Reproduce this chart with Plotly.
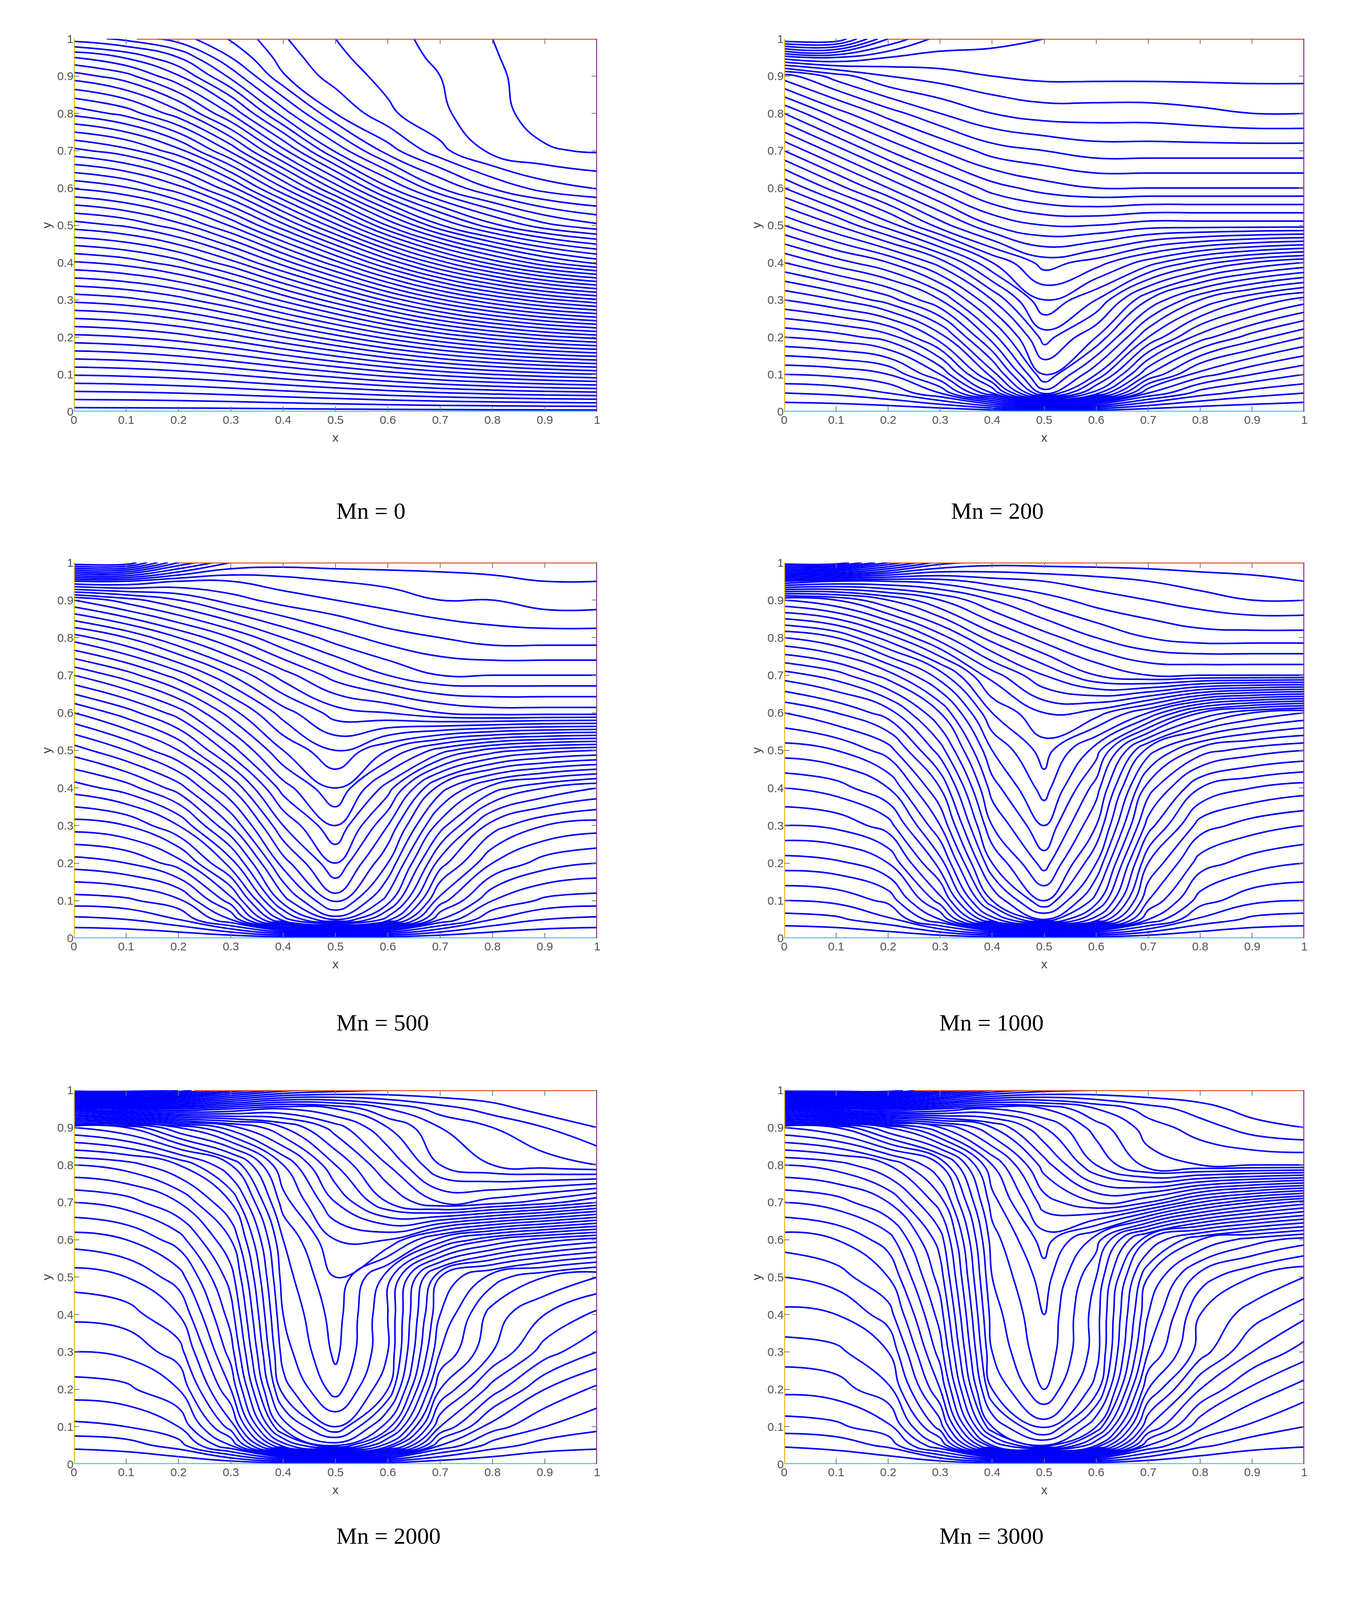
import plotly.graph_objects as go

# shared grid (x columns, y rows)
xg = [0, 0.1, 0.2, 0.3, 0.4, 0.5, 0.6, 0.7, 0.8, 0.9, 1]
yg = [0, 0.05, 0.1, 0.2, 0.3, 0.4, 0.5, 0.6, 0.7, 0.8, 0.9, 0.95, 1]

# field values, rows y=0 -> y=1
# (Mn = 0 is in "isoline index" units, the others on a 0..1 scale)
t_mn0 = [
    [0, 0, 0, 0, 0, 0, 0, 0, 0, 0, 0],
    [2.3, 2.37, 2.51, 2.76, 3.12, 3.52, 3.97, 4.39, 4.74, 5.03, 5.23],
    [4.6, 4.73, 5.02, 5.53, 6.24, 7.04, 7.93, 8.78, 9.49, 10.06, 10.46],
    [9.2, 9.47, 10.05, 11.06, 12.48, 14.09, 15.86, 17.55, 18.97, 20.13, 20.91],
    [13.8, 14.2, 15.07, 16.59, 18.73, 21.13, 23.79, 26.33, 28.46, 30.19, 31.37],
    [18.4, 18.93, 20.09, 22.12, 24.97, 28.17, 31.72, 35.11, 37.94, 40.26, 41.82],
    [23, 23.67, 25.12, 27.65, 31.21, 35.21, 39.6, 43.4, 46.2, 48.2, 49.3],
    [27.6, 28.4, 30.14, 33.18, 37.45, 41.9, 46.3, 49.5, 51.6, 53, 53.6],
    [32.2, 33.13, 35.16, 38.7, 43.2, 47.7, 51, 53.2, 54.8, 55.4, 55.6],
    [36.8, 37.87, 40.1, 43.6, 48, 51.5, 53.3, 54.3, 55.2, 55.9, 56.1],
    [41, 42.1, 44.4, 47.8, 51.4, 53, 53.8, 54.5, 55.3, 56, 56.2],
    [43.5, 44.6, 46.5, 49.5, 52, 53.3, 54, 54.7, 55.4, 56.1, 56.2],
    [47, 47.8, 49, 50.6, 52.4, 53.5, 54.2, 54.8, 55.5, 56.1, 56.3],
]
t_mn200 = [
    [0, 0, 0, 0, 0, 0, 0, 0, 0, 0, 0],
    [.04, .045, .06, .1, .2, .35, .25, .12, .07, .05, .04],
    [.08, .085, .1, .16, .27, .4, .32, .2, .13, .1, .08],
    [.16, .17, .19, .25, .35, .45, .4, .3, .23, .19, .16],
    [.24, .26, .29, .34, .42, .5, .46, .38, .32, .28, .25],
    [.32, .35, .38, .43, .5, .55, .53, .49, .45, .42, .40],
    [.40, .44, .49, .55, .6, .62, .62, .61, .61, .61, .61],
    [.48, .53, .58, .63, .67, .69, .7, .7, .7, .7, .7],
    [.56, .61, .66, .7, .73, .74, .75, .75, .75, .75, .75],
    [.64, .69, .73, .76, .78, .79, .79, .79, .795, .80, .80],
    [.73, .77, .8, .81, .82, .825, .825, .825, .825, .825, .825],
    [.85, .86, .84, .835, .835, .835, .835, .835, .835, .835, .835],
    [1, 1, .9, .85, .845, .84, .84, .84, .84, .84, .84],
]
t_mn500 = [
    [0, 0, 0, 0, 0, 0, 0, 0, 0, 0, 0],
    [.035, .04, .06, .12, .25, .33, .25, .12, .06, .04, .035],
    [.07, .075, .095, .17, .31, .39, .31, .17, .1, .075, .07],
    [.13, .14, .17, .25, .37, .44, .36, .23, .16, .13, .12],
    [.19, .2, .24, .32, .42, .48, .4, .29, .21, .18, .17],
    [.25, .27, .31, .38, .47, .52, .45, .35, .29, .26, .24],
    [.31, .34, .38, .45, .52, .56, .52, .47, .43, .41, .40],
    [.38, .41, .45, .51, .57, .61, .62, .64, .65, .65, .65],
    [.46, .49, .53, .58, .63, .67, .7, .72, .72, .72, .72],
    [.55, .58, .62, .66, .7, .73, .75, .76, .77, .77, .77],
    [.66, .69, .72, .75, .77, .78, .79, .80, .80, .81, .81],
    [.8, .8, .78, .78, .79, .8, .805, .81, .815, .82, .82],
    [1, 1, .9, .84, .83, .83, .83, .83, .83, .83, .83],
]
t_mn1000 = [
    [0, 0, 0, 0, 0, 0, 0, 0, 0, 0, 0],
    [.03, .035, .055, .12, .25, .34, .25, .12, .055, .035, .03],
    [.06, .065, .085, .17, .32, .4, .31, .16, .09, .065, .06],
    [.11, .115, .14, .23, .38, .45, .36, .2, .13, .11, .10],
    [.16, .165, .19, .28, .42, .48, .4, .25, .17, .15, .14],
    [.2, .21, .24, .32, .45, .51, .43, .29, .22, .2, .19],
    [.25, .26, .29, .37, .48, .53, .47, .35, .29, .27, .26],
    [.3, .32, .35, .42, .52, .56, .55, .5, .42, .38, .36],
    [.37, .39, .43, .49, .57, .62, .66, .68, .68, .68, .68],
    [.46, .48, .53, .59, .65, .69, .72, .74, .75, .75, .75],
    [.58, .6, .64, .68, .72, .75, .77, .78, .79, .8, .8],
    [.76, .74, .74, .75, .77, .78, .79, .8, .81, .815, .82],
    [1, 1, .92, .85, .83, .83, .83, .83, .83, .83, .83],
]
t_mn2000 = [
    [0, 0, 0, 0, 0, 0, 0, 0, 0, 0, 0],
    [.025, .03, .05, .12, .27, .35, .25, .1, .05, .03, .025],
    [.055, .06, .08, .17, .35, .42, .33, .16, .09, .06, .045],
    [.09, .095, .12, .22, .41, .47, .4, .22, .15, .1, .075],
    [.12, .125, .15, .25, .43, .485, .42, .26, .2, .15, .12],
    [.145, .15, .18, .27, .44, .49, .42, .28, .21, .18, .155],
    [.17, .18, .21, .29, .45, .5, .43, .3, .25, .22, .20],
    [.21, .22, .25, .32, .46, .52, .52, .45, .4, .37, .35],
    [.26, .27, .3, .36, .49, .56, .62, .66, .65, .63, .60],
    [.32, .33, .36, .42, .52, .6, .66, .72, .74, .75, .76],
    [.42, .44, .5, .55, .6, .65, .7, .74, .76, .78, .8],
    [.65, .7, .72, .7, .68, .7, .74, .77, .79, .81, .82],
    [1, 1, .98, .9, .85, .83, .82, .82, .82, .82, .82],
]
t_mn3000 = [
    [0, 0, 0, 0, 0, 0, 0, 0, 0, 0, 0],
    [.022, .027, .045, .12, .28, .36, .26, .1, .045, .027, .022],
    [.05, .055, .075, .17, .36, .43, .34, .16, .085, .055, .04],
    [.085, .09, .115, .22, .42, .48, .41, .22, .14, .095, .07],
    [.11, .115, .14, .25, .44, .495, .43, .26, .19, .14, .11],
    [.135, .14, .17, .27, .45, .5, .43, .28, .2, .17, .145],
    [.16, .17, .2, .29, .46, .51, .44, .3, .23, .2, .18],
    [.19, .2, .23, .31, .47, .53, .47, .36, .3, .27, .25],
    [.24, .25, .28, .35, .49, .57, .6, .58, .52, .48, .45],
    [.3, .31, .34, .4, .52, .61, .68, .73, .74, .74, .74],
    [.4, .42, .48, .54, .6, .66, .71, .75, .77, .79, .8],
    [.64, .69, .72, .7, .68, .7, .74, .77, .79, .81, .82],
    [1, 1, 1, .93, .86, .83, .82, .82, .82, .82, .82],
]

titles = ["Mn = 0", "Mn = 200", "Mn = 500", "Mn = 1000", "Mn = 2000", "Mn = 3000"]
fields = [t_mn0, t_mn200, t_mn500, t_mn1000, t_mn2000, t_mn3000]
# contour levels per panel: start, end, step
levels = [(0.5, 56.2, 1), (0.02, 0.99, 0.02), (0.02, 0.99, 0.02),
          (0.02, 0.99, 0.02), (0.02, 0.99, 0.02), (0.02, 0.99, 0.02)]
red_start = [0.12, 0.2, 0.2, 0.2, 0.23, 0.25]  # where the red lid line begins
tick_vals = [0, 0.1, 0.2, 0.3, 0.4, 0.5, 0.6, 0.7, 0.8, 0.9, 1]
tick_text = ["0", "0.1", "0.2", "0.3", "0.4", "0.5", "0.6", "0.7", "0.8", "0.9", "1"]

W, H = 3472, 4493
x_doms = [[182 / W, 1528 / W], [2009 / W, 3347 / W]]
y_doms = [
    [1 - 1147 / H, 1 - 91 / H],
    [1 - 2638 / H, 1 - 1574 / H],
    [1 - 4127 / H, 1 - 3068 / H],
]
title_y = [1 - 1389 / H, 1 - 2877 / H, 1 - 4369 / H]

fig = go.Figure()
layout = {}
annotations = []

for i in range(6):
    r, c = divmod(i, 2)
    n = i + 1
    xa = "x" if n == 1 else "x%d" % n
    ya = "y" if n == 1 else "y%d" % n
    s0, s1, ds = levels[i]
    fig.add_trace(
        go.Contour(
            x=xg, y=yg, z=fields[i],
            xaxis=xa, yaxis=ya,
            contours=dict(coloring="lines", start=s0, end=s1, size=ds),
            colorscale=[[0, "#0000ff"], [1, "#0000ff"]],
            line=dict(width=4, smoothing=1.3),
            showscale=False, hoverinfo="skip",
        )
    )
    # coloured boundary lines
    for bx, by, col in [
        ([red_start[i], 1], [1, 1], "#d95319"),
        ([0, 0], [0, 1], "#edb120"),
        ([0, 1], [0, 0], "#4dbeee"),
        ([1, 1], [0, 1], "#7e2f8e"),
    ]:
        fig.add_trace(
            go.Scatter(x=bx, y=by, mode="lines", line=dict(color=col, width=5),
                       xaxis=xa, yaxis=ya, showlegend=False, hoverinfo="skip",
                       cliponaxis=False)
        )

    axis_common = dict(
        range=[0, 1], tickvals=tick_vals, ticktext=tick_text,
        ticks="inside", ticklen=14, tickwidth=2, tickcolor="#777777",
        mirror="ticks", showgrid=False, zeroline=False, showline=False,
        tickfont=dict(family="Liberation Sans", size=30, color="#555555"),
    )
    layout["xaxis" if n == 1 else "xaxis%d" % n] = dict(
        axis_common, domain=x_doms[c], anchor=ya,
        title=dict(text="x", font=dict(family="Liberation Sans", size=32, color="#444444"), standoff=18),
    )
    layout["yaxis" if n == 1 else "yaxis%d" % n] = dict(
        axis_common, domain=y_doms[r], anchor=xa,
        title=dict(text="y", font=dict(family="Liberation Sans", size=32, color="#444444"), standoff=6),
    )
    annotations.append(dict(
        text=titles[i], xref="paper", yref="paper",
        x=sum(x_doms[c]) / 2, y=title_y[r], showarrow=False,
        font=dict(family="Liberation Serif", size=60, color="black"),
    ))

fig.update_layout(
    **layout,
    annotations=annotations,
    autosize=True,
    margin=dict(l=0, r=0, t=0, b=0),
    plot_bgcolor="white", paper_bgcolor="white",
    showlegend=False,
)

fig.write_html("out.html", default_width="100%", default_height="100%",
               config={"displayModeBar": False})

# let the figure fill the browser window exactly
with open("out.html") as f:
    page = f.read()
page = page.replace("<head>", "<head><style>html,body{margin:0;padding:0;height:100%;overflow:hidden}</style>", 1)
with open("out.html", "w") as f:
    f.write(page)
